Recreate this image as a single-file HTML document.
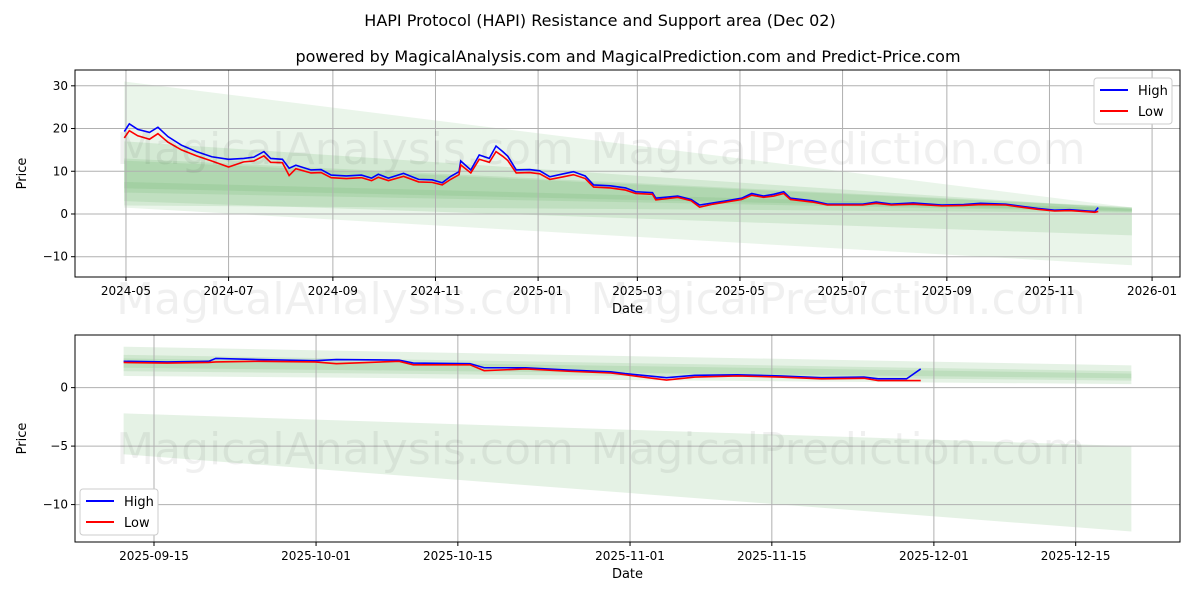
<!DOCTYPE html>
<html><head><meta charset="utf-8"><style>
body{margin:0;background:#fff;font-family:"Liberation Sans","DejaVu Sans",sans-serif}
svg text{font-family:"DejaVu Sans","Liberation Sans",sans-serif}
</style></head><body>
<svg id="c" width="1200" height="600" xmlns="http://www.w3.org/2000/svg"></svg>
<script>
// top chart data (days since 2024-05-01)
const topDays=[-1,2,7,14,19,25,33,42,51,61,70,76,82,86,93,97,101,110,116,122,131,140,146,150,156,165,174,182,188,193,198,199,205,210,216,220,224,227,232,240,246,252,260,266,273,278,288,297,303,313,315,328,336,341,349,357,366,372,379,385,391,395,408,417,425,438,446,455,468,485,498,508,523,534,542,552,561,572,576,578];
const topHigh=[19.3,21.1,19.8,19.1,20.3,18.1,16.1,14.6,13.4,12.8,13.0,13.3,14.6,13.0,12.8,10.7,11.4,10.3,10.4,9.1,8.9,9.1,8.4,9.3,8.4,9.5,8.1,8.0,7.3,8.8,9.9,12.4,10.3,13.8,13.0,15.9,14.6,13.5,10.3,10.4,10.1,8.7,9.4,9.9,8.9,6.8,6.6,6.1,5.2,5.0,3.7,4.2,3.4,2.1,2.6,3.1,3.7,4.8,4.2,4.6,5.2,3.7,3.1,2.3,2.3,2.3,2.8,2.3,2.6,2.1,2.2,2.5,2.3,1.7,1.3,0.9,1.0,0.7,0.6,1.5];
const topLow=[17.8,19.5,18.3,17.5,18.8,16.8,15.0,13.6,12.4,11.0,12.2,12.4,13.6,12.1,12.0,9.0,10.6,9.6,9.7,8.5,8.3,8.5,7.8,8.6,7.8,8.8,7.5,7.4,6.8,8.1,9.2,11.5,9.6,12.8,12.1,14.6,13.5,12.5,9.6,9.7,9.4,8.1,8.7,9.2,8.3,6.3,6.1,5.6,4.8,4.6,3.3,3.9,3.1,1.6,2.3,2.8,3.4,4.4,3.9,4.2,4.8,3.4,2.8,2.1,2.1,2.1,2.5,2.1,2.3,1.9,2.0,2.2,2.1,1.5,1.1,0.7,0.8,0.5,0.4,0.6];
// bands: [startLow,startHigh,endLow,endHigh]
const topBands=[[1.5,31,-12,1.5],[3,17,-5,1.2],[2,13,0.3,1.6],[5,12.5,0.5,1.5],[6,7.5,0.7,1.3]];
const topYTicks=[30,20,10,0,-10];
const topXTicks=["2024-05","2024-07","2024-09","2024-11","2025-01","2025-03","2025-05","2025-07","2025-09","2025-11","2026-01"];
// bottom chart data (days since 2025-09-15)
const botDays=[-3,1.3,5.4,6.1,10.3,15.9,18,24.2,25.6,31.2,32.6,36.7,40.9,45.1,46.5,50.6,53.4,57.6,61.8,65.9,70.1,71.5,74.3,75.7];
const botHigh=[2.25,2.2,2.25,2.5,2.4,2.3,2.4,2.35,2.1,2.05,1.7,1.7,1.5,1.35,1.2,0.85,1.05,1.1,1.0,0.85,0.9,0.75,0.75,1.6];
const botLow=[2.15,2.1,2.15,2.2,2.25,2.2,2.05,2.25,1.95,1.95,1.45,1.6,1.4,1.25,1.1,0.65,0.9,1.0,0.9,0.75,0.8,0.6,0.6,0.6];
const botBands=[[1.0,3.5,0.3,1.9],[1.4,2.8,0.6,1.4],[1.7,2.5,0.8,1.2],[-5.7,-2.2,-12.3,-5]];
const botYTicks=[0,-5,-10];
const botXTicks=["2025-09-15","2025-10-01","2025-10-15","2025-11-01","2025-11-15","2025-12-01","2025-12-15"];

const NS="http://www.w3.org/2000/svg",svg=document.getElementById('c');
function mk(t,a,p){const e=document.createElementNS(NS,t);for(const k in a)e.setAttribute(k,a[k]);(p||svg).appendChild(e);return e;}
function dayOf(s,base){const p=s.split('-');const d=Date.UTC(+p[0],+p[1]-1,p[2]?+p[2]:1);return (d-base)/864e5;}
function panel(o){
 const g=mk('g',{});
 
 
 const X=d=>o.L+(d-o.d0)/(o.d1-o.d0)*(o.R-o.L), Y=v=>o.T+(o.v1-v)/(o.v1-o.v0)*(o.B-o.T);
 o.bands.forEach((b,i)=>{const p=mk('polygon',{points:`${X(o.bs)},${Y(b[1])} ${X(o.be)},${Y(b[3])} ${X(o.be)},${Y(b[2])} ${X(o.bs)},${Y(b[0])}`,fill:i<1&&o.first?'rgba(160,210,160,0.22)':'rgba(100,180,100,0.17)'},g);
  
  });
 o.xt.forEach(t=>{const x=X(dayOf(t,o.base));mk('line',{x1:x,x2:x,y1:o.T,y2:o.B,stroke:'#b0b0b0','stroke-width':1},g);
  mk('line',{x1:x,x2:x,y1:o.B,y2:o.B+4,stroke:'#000'},g);
  const tx=mk('text',{x:x,y:o.B+18,'text-anchor':'middle','font-size':12},g);tx.textContent=t;
  
  });
 o.yt.forEach(v=>{const y=Y(v);mk('line',{x1:o.L,x2:o.R,y1:y,y2:y,stroke:'#b0b0b0'},g);
  mk('line',{x1:o.L-4,x2:o.L,y1:y,y2:y,stroke:'#000'},g);
  const tx=mk('text',{x:o.L-7,y:y+4,'text-anchor':'end','font-size':12},g);tx.textContent=v<0?'\u2212'+(-v):v;
  
  });
 [[o.hi,'#0000ff','high-line'],[o.lo,'#ff0000','low-line']].forEach(s=>{
  const pl=mk('polyline',{points:o.days.map((d,i)=>X(d)+','+Y(s[0][i])).join(' '),fill:'none',stroke:s[1],'stroke-width':1.6},g);
  
  });
 o.wm.forEach(w=>{const t=mk('text',{x:w[0],y:w[1],'text-anchor':'middle','font-size':44,fill:'rgba(0,0,0,0.06)'},g);t.textContent=w[2];});
 mk('rect',{x:o.L,y:o.T,width:o.R-o.L,height:o.B-o.T,fill:'none',stroke:'#000','stroke-width':1},g);
 const xl=mk('text',{x:(o.L+o.R)/2,y:o.B+36,'text-anchor':'middle','font-size':13},g);xl.textContent='Date';
 
 const yl=mk('text',{x:26,y:(o.T+o.B)/2,'text-anchor':'middle','font-size':13,transform:`rotate(-90 26 ${(o.T+o.B)/2})`},g);yl.textContent='Price';
 
 const lg=mk('g',{},g);
 mk('rect',{x:o.lg[0],y:o.lg[1],width:78,height:46,rx:3,fill:'#fff',stroke:'#ccc'},lg);
 [['High','#0000ff'],['Low','#ff0000']].forEach((e,i)=>{const y=o.lg[1]+12+i*21;
  mk('line',{x1:o.lg[0]+6,x2:o.lg[0]+34,y1:y,y2:y,stroke:e[1],'stroke-width':2},lg);
  const t=mk('text',{x:o.lg[0]+44,y:y+5,'font-size':13},lg);t.textContent=e[0];
  });
}
const b1=Date.UTC(2024,4,1),b2=Date.UTC(2025,8,15);
panel({name:'top-panel',L:75,R:1180,T:70,B:277,d0:-30.3,d1:626.6,v0:-14.75,v1:33.7,base:b1,bs:-1,be:598,bands:topBands,xt:topXTicks,yt:topYTicks,days:topDays,hi:topHigh,lo:topLow,first:true,
 wm:[[345,164,'MagicalAnalysis.com'],[838,164,'MagicalPrediction.com'],[345,314,'MagicalAnalysis.com'],[838,314,'MagicalPrediction.com']],lg:[1094,78]});
panel({name:'bottom-panel',L:75,R:1180,T:335,B:542,d0:-7.8,d1:101.3,v0:-13.2,v1:4.5,base:b2,bs:-3,be:96.5,bands:botBands,xt:botXTicks,yt:botYTicks,days:botDays,hi:botHigh,lo:botLow,first:false,
 wm:[[345,464,'MagicalAnalysis.com'],[838,464,'MagicalPrediction.com']],lg:[80,489]});
const t1=mk('text',{x:600,y:26,'text-anchor':'middle','font-size':16});t1.textContent='HAPI Protocol (HAPI) Resistance and Support area (Dec 02)';

const t2=mk('text',{x:628,y:62,'text-anchor':'middle','font-size':16});t2.textContent='powered by MagicalAnalysis.com and MagicalPrediction.com and Predict-Price.com';

</script>
</body></html>
